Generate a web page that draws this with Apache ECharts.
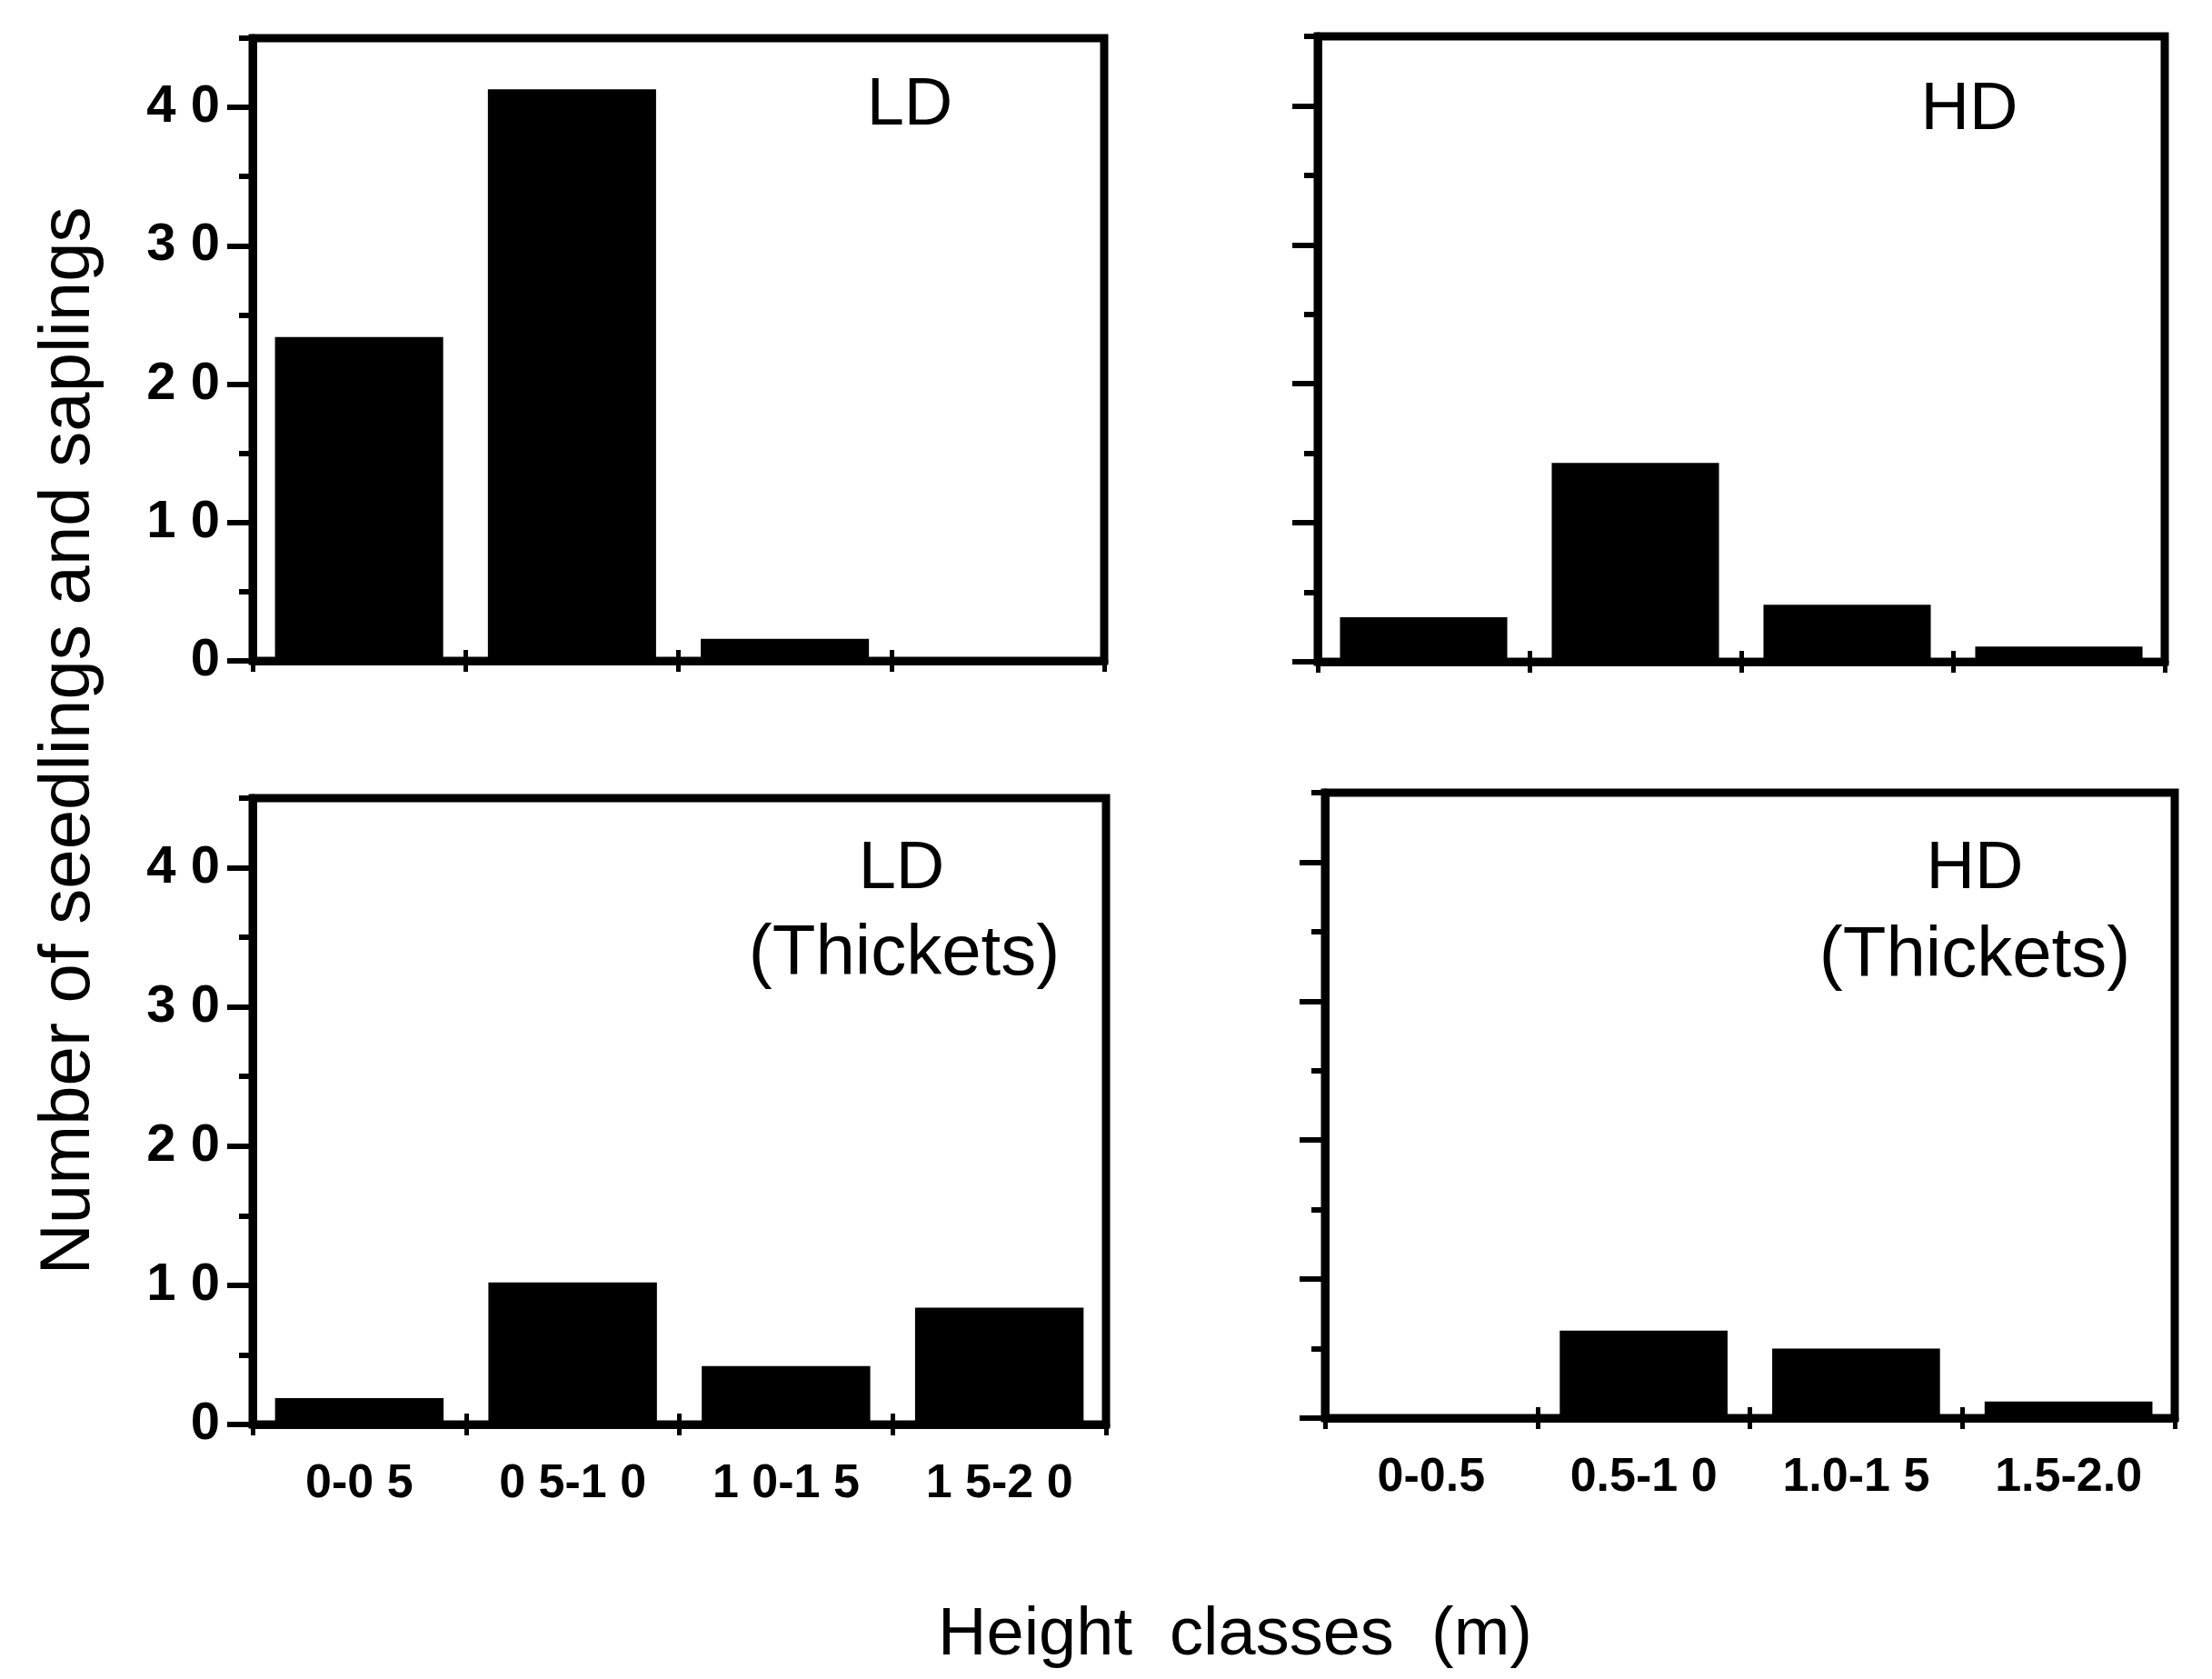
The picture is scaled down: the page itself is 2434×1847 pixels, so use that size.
<!DOCTYPE html>
<html><head><meta charset="utf-8">
<script src="https://cdn.jsdelivr.net/npm/echarts@6/dist/echarts.min.js"></script>
<style>html,body{margin:0;padding:0;background:#fff}#c{width:2434px;height:1847px}</style>
</head><body><div id="c"></div>
<script>
const categories = ['0-0.5', '0.5-1.0', '1.0-1.5', '1.5-2.0'];
const ldValues = [23.4, 41.3, 1.6, 0];
const hdValues = [3.2, 14.3, 4.1, 1.1];
const ldThicketValues = [1.9, 10.2, 4.2, 8.4];
const hdThicketValues = [0, 6.3, 5.0, 1.2];
const bottomLeftTickLabels = ['0-0 5', '0 5-1 0', '1 0-1 5', '1 5-2 0'];
const bottomRightTickLabels = ['0-0.5', '0.5-1 0', '1.0-1 5', '1.5-2.0'];
const yMajorTicks = [0, 10, 20, 30, 40];
const yMinorTicks = [5, 15, 25, 35, 45];
const yMax = 45;
const panelTitles = ['LD', 'HD', 'LD', 'HD'];
const panelSubtitle = '(Thickets)';
const xAxisTitle = 'Height  classes  (m)';
const yAxisTitle = 'Number of seedlings and saplings';

const FONT = "'Liberation Sans', Arial, Helvetica, sans-serif";
const panels = [
  { grid: { left: 278, top: 42, width: 937, height: 685 }, values: ldValues, xLabels: null, yLabels: true },
  { grid: { left: 1450, top: 40, width: 932, height: 688 }, values: hdValues, xLabels: null, yLabels: false },
  { grid: { left: 278, top: 878, width: 939, height: 689 }, values: ldThicketValues, xLabels: bottomLeftTickLabels, yLabels: true },
  { grid: { left: 1458, top: 872, width: 935, height: 688 }, values: hdThicketValues, xLabels: bottomRightTickLabels, yLabels: false }
];

const grids = [], xAxes = [], yAxes = [], series = [];
panels.forEach((p, i) => {
  grids.push(Object.assign({ show: true, borderColor: '#000', borderWidth: 9, backgroundColor: '#fff', containLabel: false }, p.grid));
  xAxes.push({
    type: 'category', gridIndex: i, data: categories, position: 'bottom', boundaryGap: true,
    axisLine: { show: true, lineStyle: { color: '#000', width: 9 } },
    axisTick: { show: true, length: 12, lineStyle: { color: '#000', width: 5 } },
    axisLabel: {
      show: !!p.xLabels, interval: 0, margin: 40, color: '#000', fontFamily: FONT, fontWeight: 'bold', fontSize: 52,
      formatter: (v, idx) => p.xLabels ? p.xLabels[idx] : ''
    },
    splitLine: { show: false }
  });
  xAxes.push({
    type: 'category', gridIndex: i, data: categories, position: 'top', boundaryGap: true,
    axisLine: { show: false },
    axisTick: { show: true, length: 12, lineStyle: { color: '#000', width: 5 } },
    axisLabel: { show: false }, splitLine: { show: false }
  });
  yAxes.push({
    type: 'value', gridIndex: i, min: 0, max: yMax, position: 'left',
    axisLine: { show: true, lineStyle: { color: '#000', width: 9 } },
    axisTick: { show: true, customValues: yMajorTicks, length: 28, lineStyle: { color: '#000', width: 6 } },
    axisLabel: {
      show: p.yLabels, customValues: yMajorTicks, margin: 36, color: '#000', fontFamily: FONT, fontWeight: 'bold', fontSize: 58,
      formatter: v => String(v).split('').join(' ')
    },
    splitLine: { show: false }
  });
  yAxes.push({
    type: 'value', gridIndex: i, min: 0, max: yMax, position: 'left', offset: 0,
    axisLine: { show: false },
    axisTick: { show: true, customValues: yMinorTicks, length: 15, lineStyle: { color: '#000', width: 6 } },
    axisLabel: { show: false }, splitLine: { show: false }
  });
  series.push({
    type: 'bar', xAxisIndex: 2 * i, yAxisIndex: 2 * i, data: p.values,
    barCategoryGap: '21%', itemStyle: { color: '#000' }, silent: true
  });
});

const txt = (x, y, text, size, extra) => Object.assign({
  type: 'text', x: x, y: y, silent: true,
  style: { text: text, fill: '#000', font: size + 'px ' + FONT, textAlign: 'center', textVerticalAlign: 'middle' }
}, extra || {});

const graphics = [
  txt(1001, 117, panelTitles[0], 74),
  txt(2167, 122, panelTitles[1], 74),
  txt(992, 957, panelTitles[2], 74),
  txt(995, 1050, panelSubtitle, 78),
  txt(2173, 957, panelTitles[3], 74),
  txt(2173, 1052, panelSubtitle, 78),
  txt(1359, 1800, xAxisTitle, 74),
  txt(76, 815, yAxisTitle, 78, { rotation: Math.PI / 2 })
];

const chart = echarts.init(document.getElementById('c'), null, { renderer: 'canvas' });
chart.setOption({
  backgroundColor: '#fff',
  animation: false,
  grid: grids, xAxis: xAxes, yAxis: yAxes, series: series,
  graphic: graphics
});
</script></body></html>
